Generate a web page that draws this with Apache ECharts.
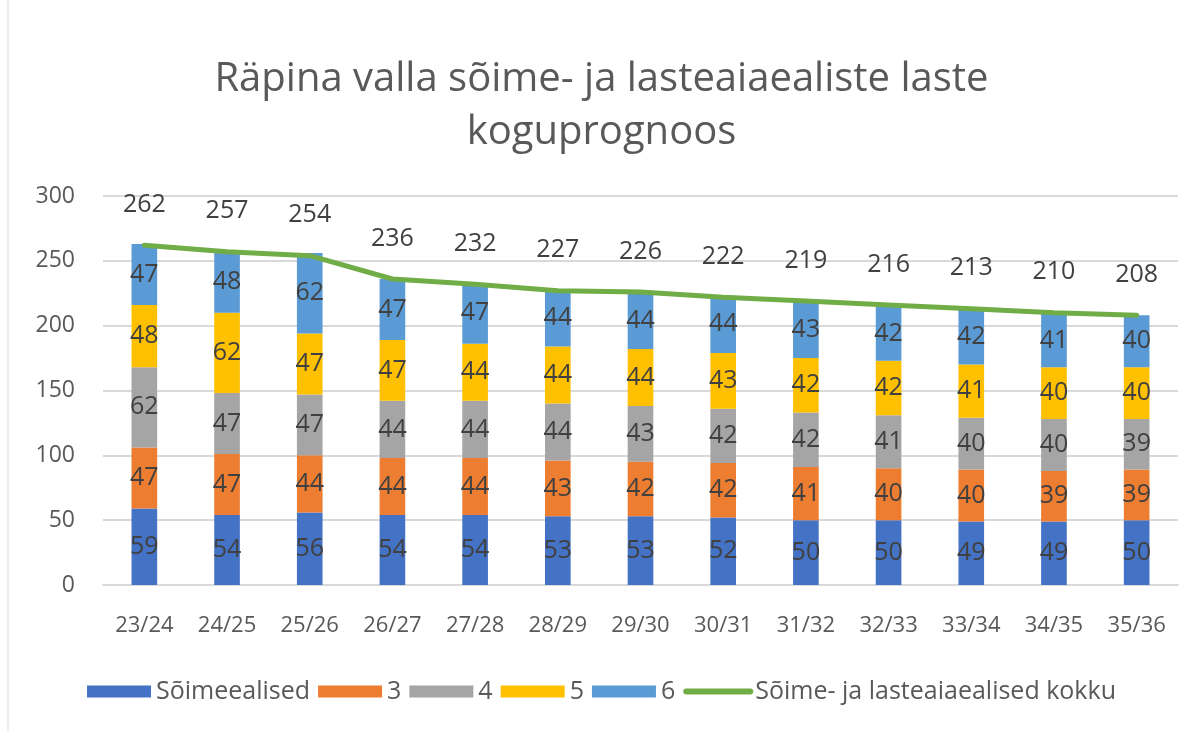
<!DOCTYPE html>
<html><head><meta charset="utf-8">
<script src="https://cdn.jsdelivr.net/npm/echarts@6/dist/echarts.min.js"></script>
<style>html,body{margin:0;padding:0;background:#fff}#c{width:1203px;height:731px}</style>
</head><body><div id="c"></div>
<script>
const categories = ['23/24','24/25','25/26','26/27','27/28','28/29','29/30','30/31','31/32','32/33','33/34','34/35','35/36'];
const soimeealised = [59,54,56,54,54,53,53,52,50,50,49,49,50];
const age3 = [47,47,44,44,44,43,42,42,41,40,40,39,39];
const age4 = [62,47,47,44,44,44,43,42,42,41,40,40,39];
const age5 = [48,62,47,47,44,44,44,43,42,42,41,40,40];
const age6 = [47,48,62,47,47,44,44,44,43,42,42,41,40];
const kokku = [262,257,254,236,232,227,226,222,219,216,213,210,208];
const yTicks = [0,50,100,150,200,250,300];

const FONT = 'Open Sans';
const chart = echarts.init(document.getElementById('c'), null, {renderer:'canvas'});
function barSeries(name, data, color){
  return {name, type:'bar', stack:'s', data, barWidth:'31%',
    itemStyle:{color},
    label:{show:true, position:'inside', color:'#404040', fontSize:25, fontFamily:FONT},
    labelLayout:{hideOverlap:false},
    emphasis:{disabled:true}};
}
chart.setOption({
  animation:false,
  textStyle:{fontFamily:FONT},
  title:{text:'Räpina valla sõime- ja lasteaiaealiste laste\nkoguprognoos', left:'center', top:48,
    textStyle:{fontSize:40, fontWeight:'normal', color:'#595959', fontFamily:FONT, lineHeight:53}},
  graphic:[{type:'rect', shape:{x:8,y:-2,width:1200,height:740}, style:{fill:null, stroke:'#d9d9d9', lineWidth:1}, silent:true}],
  grid:{left:103, right:25, top:196, bottom:146, containLabel:false},
  legend:{bottom:22, left:'center', itemGap:8, itemWidth:64, itemHeight:12,
    textStyle:{fontSize:25, color:'#595959', fontFamily:FONT},
    data:[{name:'Sõimeealised',icon:'rect'},{name:'3',icon:'rect'},{name:'4',icon:'rect'},{name:'5',icon:'rect'},{name:'6',icon:'rect'},
      {name:'Sõime- ja lasteaiaealised kokku', itemStyle:{opacity:0}, lineStyle:{color:'#70AD47', width:6, cap:'round'}}]},
  xAxis:{type:'category', data:categories, axisTick:{show:false},
    axisLine:{lineStyle:{color:'#d9d9d9', width:2}},
    axisLabel:{fontSize:22, color:'#595959', margin:30, fontFamily:FONT, interval:0}},
  yAxis:{type:'value', min:yTicks[0], max:yTicks[yTicks.length-1], interval:50,
    axisLine:{show:false}, axisTick:{show:false},
    splitLine:{lineStyle:{color:'#d9d9d9', width:2}},
    axisLabel:{fontSize:23, color:'#595959', margin:28, fontFamily:FONT}},
  series:[
    barSeries('Sõimeealised', soimeealised, '#4472C4'),
    barSeries('3', age3, '#ED7D31'),
    barSeries('4', age4, '#A5A5A5'),
    barSeries('5', age5, '#FFC000'),
    barSeries('6', age6, '#5B9BD5'),
    {name:'Sõime- ja lasteaiaealised kokku', type:'line', data:kokku, symbol:'circle', symbolSize:2, showSymbol:true,
      lineStyle:{color:'#70AD47', width:5, cap:'round'}, itemStyle:{color:'#70AD47', borderWidth:0},
      label:{show:true, position:'top', distance:27, color:'#404040', fontSize:25, fontFamily:FONT},
      labelLayout:{hideOverlap:false},
      z:10, emphasis:{disabled:true}}
  ]
});
</script></body></html>
